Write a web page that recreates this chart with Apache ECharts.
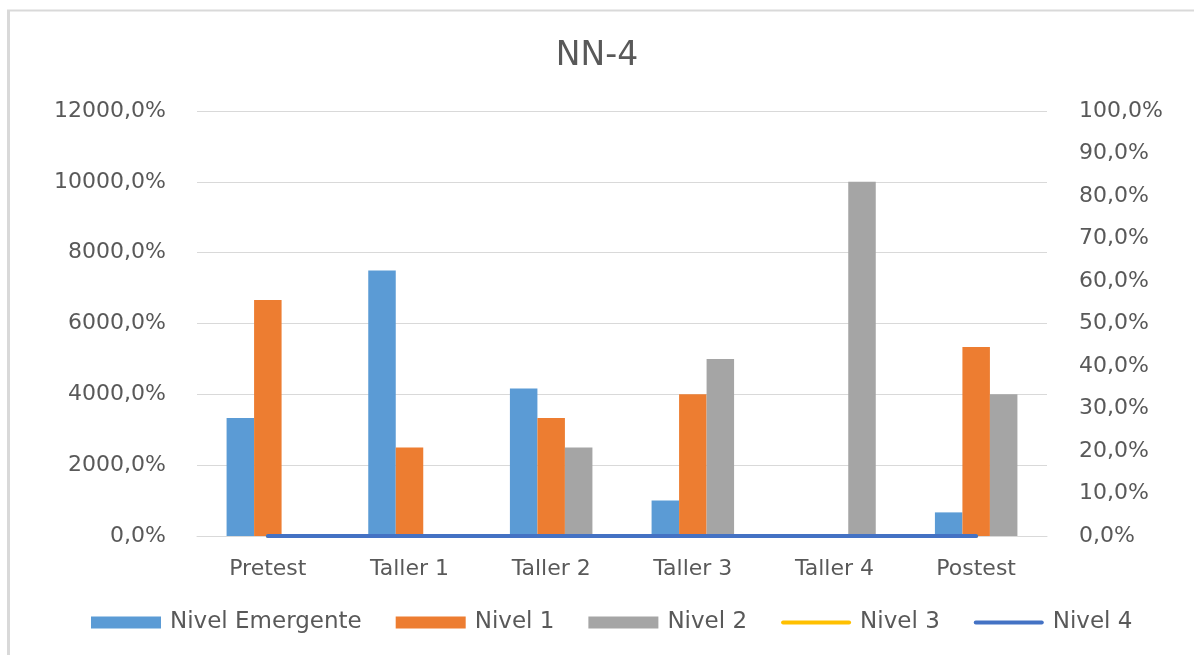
<!DOCTYPE html>
<html>
<head>
<meta charset="utf-8">
<script src="https://cdn.jsdelivr.net/npm/echarts@6/dist/echarts.min.js"></script>
<style>
html,body{margin:0;padding:0;background:#fff;}
#chart{width:1194px;height:655px;}
</style>
</head>
<body>
<div id="chart"></div>
<script>
const categories = ['Pretest', 'Taller 1', 'Taller 2', 'Taller 3', 'Taller 4', 'Postest'];
const nivelEmergente = [3333.3, 7500, 4166.7, 1000, 0, 666.7];
const nivel1 = [6666.7, 2500, 3333.3, 4000, 0, 5333.3];
const nivel2 = [0, 0, 2500, 5000, 10000, 4000];
const nivel3 = [0, 0, 0, 0, 0, 0];
const nivel4 = [0, 0, 0, 0, 0, 0];
const leftTicks = { min: 0, max: 12000, interval: 2000 };
const rightTicks = { min: 0, max: 100, interval: 10 };

const FONT = 'DejaVu Sans';
const TXT = '#595959';
const LINE_ICON = 'path://M0,0M2,4h66a2,2 0 0 1 0,4h-66a2,2 0 0 1 0,-4zM70,12';

const chart = echarts.init(document.getElementById('chart'), null, { renderer: 'canvas' });
const fmt = v => v + ',0%';

chart.setOption({
  animation: false,
  backgroundColor: '#fff',
  title: {
    text: 'NN-4',
    left: 'center',
    top: 35,
    textStyle: { fontFamily: FONT, fontSize: 33, fontWeight: 'normal', color: TXT }
  },
  graphic: [
    { type: 'line', shape: { x1: 8.5, y1: 10, x2: 8.5, y2: 700 },
      style: { stroke: '#d9d9d9', lineWidth: 3 }, silent: true },
    { type: 'line', shape: { x1: 7, y1: 10.5, x2: 1200, y2: 10.5 },
      style: { stroke: '#d9d9d9', lineWidth: 2 }, silent: true }
  ],
  legend: {
    bottom: 16,
    left: 86,
    itemWidth: 70,
    itemHeight: 12,
    itemGap: 34,
    textStyle: { fontFamily: FONT, fontSize: 23, color: TXT, padding: [0, 0, 0, 4] },
    data: [
      { name: 'Nivel Emergente', icon: 'rect' },
      { name: 'Nivel 1', icon: 'rect' },
      { name: 'Nivel 2', icon: 'rect' },
      { name: 'Nivel 3', icon: LINE_ICON },
      { name: 'Nivel 4', icon: LINE_ICON }
    ]
  },
  grid: { left: 197, right: 147, top: 111, bottom: 119 },
  xAxis: {
    type: 'category',
    data: categories,
    axisLine: { show: true, lineStyle: { color: '#d9d9d9', width: 1 } },
    axisTick: { show: false },
    axisLabel: { fontFamily: FONT, fontSize: 22, color: TXT, margin: 22 }
  },
  yAxis: [
    {
      type: 'value',
      min: leftTicks.min, max: leftTicks.max, interval: leftTicks.interval,
      axisLine: { show: false },
      axisTick: { show: false },
      splitLine: { lineStyle: { color: '#d9d9d9', width: 1 } },
      axisLabel: { fontFamily: FONT, fontSize: 22, color: TXT, margin: 31, formatter: fmt }
    },
    {
      type: 'value',
      min: rightTicks.min, max: rightTicks.max, interval: rightTicks.interval,
      axisLine: { show: false },
      axisTick: { show: false },
      splitLine: { show: false },
      axisLabel: { fontFamily: FONT, fontSize: 22, color: TXT, margin: 32, formatter: fmt }
    }
  ],
  series: [
    { name: 'Nivel Emergente', type: 'bar', data: nivelEmergente, barWidth: 27.5, barGap: '0%',
      itemStyle: { color: '#5B9BD5' } },
    { name: 'Nivel 1', type: 'bar', data: nivel1, barWidth: 27.5, barGap: '0%',
      itemStyle: { color: '#ED7D31' } },
    { name: 'Nivel 2', type: 'bar', data: nivel2, barWidth: 27.5, barGap: '0%',
      itemStyle: { color: '#A5A5A5' } },
    { name: 'Nivel 3', type: 'line', yAxisIndex: 1, data: nivel3, symbol: 'none', z: 3,
      itemStyle: { color: '#FFC000' },
      lineStyle: { color: '#FFC000', width: 4, cap: 'round' } },
    { name: 'Nivel 4', type: 'line', yAxisIndex: 1, data: nivel4, symbol: 'none', z: 4,
      itemStyle: { color: '#4472C4' },
      lineStyle: { color: '#4472C4', width: 4, cap: 'round' } }
  ]
});
</script>
</body>
</html>
